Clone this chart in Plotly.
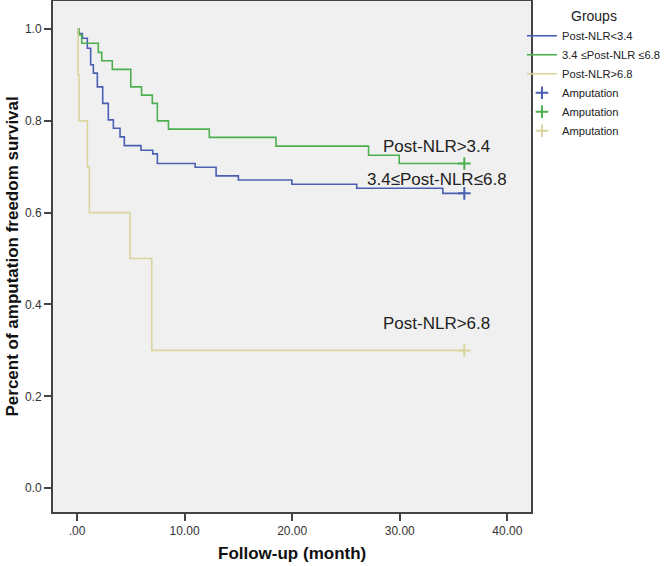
import plotly.graph_objects as go

# ---- data ----
blue_name = "Post-NLR<3.4"
green_name = "3.4 ≤Post-NLR ≤6.8"
yellow_name = "Post-NLR>6.8"

blue_t = [0, 0.1, 0.5, 0.96, 1.27, 1.52, 1.89, 2.39, 2.91, 3.38, 4.0, 4.4, 5.95, 7.04, 7.47,
          10.98, 12.93, 15.0, 19.97, 26.0, 34.0, 36.0]
blue_s = [1.0, 0.99, 0.98, 0.958, 0.922, 0.904, 0.874, 0.838, 0.802, 0.784, 0.765, 0.746, 0.736,
          0.728, 0.707, 0.699, 0.680, 0.671, 0.662, 0.653, 0.642, 0.642]

green_t = [0, 0.2, 0.44, 1.98, 2.3, 3.28, 5.0, 6.0, 7.0, 7.47, 8.5, 12.3, 18.5, 27.1, 29.95, 36.0]
green_s = [1.0, 0.987, 0.969, 0.949, 0.931, 0.912, 0.874, 0.856, 0.838, 0.80, 0.782, 0.764, 0.745,
           0.725, 0.707, 0.707]

yellow_t = [0, 0.1, 0.19, 0.96, 1.15, 4.93, 6.95, 36.0]
yellow_s = [1.0, 0.9, 0.8, 0.7, 0.6, 0.5, 0.3, 0.3]

censor_label = "Amputation"

x_tickvals = [0, 10, 20, 30, 40]
x_ticktext = [".00", "10.00", "20.00", "30.00", "40.00"]
y_tickvals = [0.0, 0.2, 0.4, 0.6, 0.8, 1.0]
y_ticktext = ["0.0", "0.2", "0.4", "0.6", "0.8", "1.0"]

curve_labels = ["Post-NLR>3.4", "3.4≤Post-NLR≤6.8", "Post-NLR>6.8"]
curve_label_x = [33.4, 33.45, 33.4]
curve_label_y = [0.744, 0.673, 0.359]

BLUE = "#4B5FB2"
GREEN = "#4DB04F"
YELLOW = "#DAD59E"
FONT = "Liberation Sans, Arial"

fig = go.Figure()
for t, s, name, col in [(blue_t, blue_s, blue_name, BLUE),
                        (green_t, green_s, green_name, GREEN),
                        (yellow_t, yellow_s, yellow_name, YELLOW)]:
    fig.add_trace(go.Scatter(x=t, y=s, mode="lines", name=name,
                             line=dict(color=col, width=1.6, shape="hv")))
for t, s, col in [(blue_t, blue_s, BLUE), (green_t, green_s, GREEN), (yellow_t, yellow_s, YELLOW)]:
    fig.add_trace(go.Scatter(x=[t[-1]], y=[s[-1]], mode="markers", name=censor_label,
                             marker=dict(symbol="cross-thin", size=9,
                                         line=dict(color=col, width=2), color=col)))

for txt, x, y in zip(curve_labels, curve_label_x, curve_label_y):
    fig.add_annotation(x=x, y=y, text=txt, showarrow=False, xanchor="center", yanchor="middle",
                       font=dict(family=FONT, size=17, color="#222222"))

fig.add_annotation(xref="paper", yref="paper", x=0, y=0.5, xshift=-41,
                   text="<b>Percent of amputation freedom survival</b>",
                   textangle=-90, showarrow=False, xanchor="center", yanchor="middle",
                   font=dict(family=FONT, size=17, color="#111111"))
fig.add_annotation(xref="paper", yref="paper", x=0.5, y=0, yshift=-41,
                   text="<b>Follow-up (month)</b>",
                   showarrow=False, xanchor="center", yanchor="middle",
                   font=dict(family=FONT, size=17, color="#111111"))

axis_common = dict(showline=True, linecolor="#444444", linewidth=2, mirror=True, showgrid=False,
                   zeroline=False, ticks="outside", ticklen=7, tickwidth=1.5, tickcolor="#444444",
                   tickfont=dict(family=FONT, size=12, color="#333333"))
fig.update_xaxes(range=[-2.23, 42.2], tickvals=x_tickvals, ticktext=x_ticktext, **axis_common)
fig.update_yaxes(range=[-0.052, 1.061], tickvals=y_tickvals, ticktext=y_ticktext, **axis_common)

fig.update_layout(
    width=664, height=566,
    margin=dict(l=53, r=133, t=1, b=54, autoexpand=False),
    paper_bgcolor="white", plot_bgcolor="#F0F0F0",
    showlegend=True,
    legend=dict(x=0.9811, y=0.996, xanchor="left", yanchor="top",
                bgcolor="rgba(0,0,0,0)", borderwidth=0,
                font=dict(family=FONT, size=11.2, color="#222222"),
                title=dict(text="Groups", side="top center",
                           font=dict(family=FONT, size=14, color="#222222")),
                itemwidth=30, tracegroupgap=0),
)

fig.write_html("out.html", config={"displayModeBar": False},
               post_script="document.body.style.margin='0';document.body.style.overflow='hidden';")
